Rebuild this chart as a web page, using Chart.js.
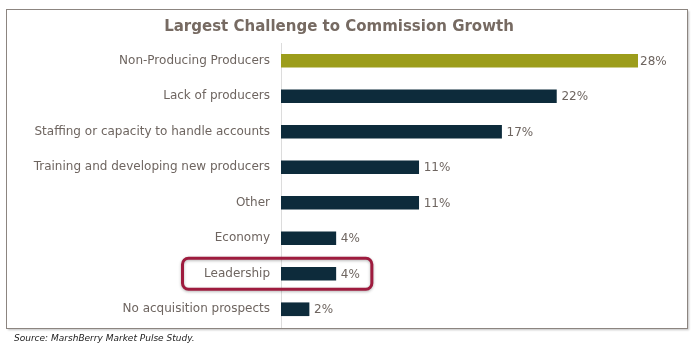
<!DOCTYPE html>
<html>
<head>
<meta charset="utf-8">
<script src="https://cdn.jsdelivr.net/npm/chart.js@4"></script>
<style>
  html, body { margin: 0; padding: 0; background: #fff; }
  #wrap { width: 700px; height: 350px; position: relative; }
</style>
</head>
<body>
<div id="wrap"><canvas id="myChart" width="700" height="350"></canvas></div>
<script>
var categories = [
  "Non-Producing Producers",
  "Lack of producers",
  "Staffing or capacity to handle accounts",
  "Training and developing new producers",
  "Other",
  "Economy",
  "Leadership",
  "No acquisition prospects"
];
var values = [28, 21.6, 17.3, 10.8, 10.8, 4.3, 4.3, 2.2];
var valueLabels = ["28%", "22%", "17%", "11%", "11%", "4%", "4%", "2%"];
var highlightCategory = "Leadership";

var OLIVE = "#9c9d1b";
var NAVY = "#0d2b3b";
var TEXT = "#6e6560";
var FONT = "'DejaVu Sans', Verdana, sans-serif";

var barColors = values.map(function (v, i) { return i === 0 ? OLIVE : NAVY; });

// frame, title, source line
var framePlugin = {
  id: "frame",
  beforeDraw: function (chart) {
    var ctx = chart.ctx;
    ctx.save();
    ctx.fillStyle = "#fff";
    ctx.fillRect(0, 0, chart.width, chart.height);
    ctx.shadowColor = "rgba(0,0,0,0.25)";
    ctx.shadowBlur = 2;
    ctx.shadowOffsetX = 1;
    ctx.shadowOffsetY = 1;
    ctx.fillStyle = "#fff";
    ctx.fillRect(6.5, 9.5, 681, 319);
    ctx.shadowColor = "transparent";
    ctx.strokeStyle = "#8c8580";
    ctx.lineWidth = 1;
    ctx.strokeRect(6.5, 9.5, 681, 319);

    ctx.fillStyle = "#766a62";
    ctx.font = "bold 15px " + FONT;
    ctx.textAlign = "center";
    ctx.textBaseline = "middle";
    ctx.fillText("Largest Challenge to Commission Growth", 339, 27);

    ctx.fillStyle = "#222";
    ctx.font = "italic 9px " + FONT;
    ctx.textAlign = "left";
    ctx.fillText("Source: MarshBerry Market Pulse Study.", 14, 339);
    ctx.restore();
  }
};

// value labels + highlight box
var labelPlugin = {
  id: "valueLabels",
  afterDatasetsDraw: function (chart) {
    var ctx = chart.ctx;
    var meta = chart.getDatasetMeta(0);
    ctx.save();
    ctx.font = "12px " + FONT;
    ctx.fillStyle = TEXT;
    ctx.textAlign = "left";
    ctx.textBaseline = "middle";
    meta.data.forEach(function (bar, i) {
      ctx.fillText(valueLabels[i], bar.x + (i === 0 ? 2 : 5), bar.y + 1);
    });

    var idx = categories.indexOf(highlightCategory);
    var b = meta.data[idx];
    var right = b.x + 5 + ctx.measureText(valueLabels[idx]).width + 12;
    var left = 182.5, top = b.y - 15.5, h = 31, w = right - left, r = 6;
    ctx.shadowColor = "rgba(0,0,0,0.3)";
    ctx.shadowBlur = 3;
    ctx.shadowOffsetY = 1;
    ctx.strokeStyle = "#9e1b3e";
    ctx.lineWidth = 3;
    ctx.beginPath();
    ctx.roundRect(left, top, w, h, r);
    ctx.stroke();
    ctx.restore();
  }
};

var ctx = document.getElementById("myChart").getContext("2d");
var myChart = new Chart(ctx, {
  type: "bar",
  data: {
    labels: categories,
    datasets: [
      {
        data: values,
        backgroundColor: barColors,
        borderWidth: 0,
        barThickness: 13,
      },
    ],
  },
  options: {
    indexAxis: "y",
    responsive: false,
    animation: false,
    layout: { padding: { left: 0, right: 62, top: 43, bottom: 23 } },
    plugins: {
      legend: { display: false },
      title: { display: false },
      tooltip: { enabled: false },
    },
    scales: {
      x: {
        display: false,
        min: 0,
        max: 28,
      },
      y: {
        afterFit: function (axis) { axis.width = 281; },
        grid: { display: false, drawTicks: false },
        border: { display: true, color: "#dcdcdc", width: 1 },
        ticks: {
          padding: 11,
          color: TEXT,
          font: { family: FONT, size: 12 },
        },
      },
    },
  },
  plugins: [framePlugin, labelPlugin],
});
</script>
</body>
</html>
